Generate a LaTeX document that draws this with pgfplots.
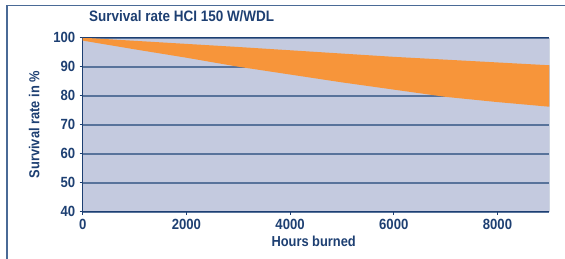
\documentclass[border=0pt]{standalone}
\usepackage{fontspec}
\usepackage{pgfplots}
\pgfplotsset{compat=1.18}
\newfontfamily\cf{Liberation Sans}[FakeStretch=0.89]
\definecolor{navy}{HTML}{1D3F72}
\definecolor{gridcol}{HTML}{58739B}
\definecolor{bgcol}{HTML}{C4CADF}
\definecolor{orng}{HTML}{F7953A}
\definecolor{framecol}{HTML}{4A6A96}
\begin{document}
\begin{tikzpicture}
\useasboundingbox (0,0) rectangle (565bp,259bp);
\draw[framecol, line width=1.6bp] (7bp,-10bp) -- (7bp,253.3bp) -- (580bp,253.3bp);
\begin{axis}[
  at={(82.7bp,47.3bp)}, anchor=south west,
  scale only axis, width=466.6bp, height=174bp,
  xmin=0, xmax=9000, ymin=40, ymax=100,
  xtick={0,2000,4000,6000,8000},
  ytick={40,50,60,70,80,90,100},
  axis lines*=left,
  axis line style={navy, line width=1.3bp},
  axis background/.style={fill=bgcol},
  ymajorgrids,
  major grid style={gridcol, line width=1.7bp},
  tick style={navy, line width=1bp},
  major tick length=3bp,
  tick align=outside,
  /pgf/number format/assume math mode=true,
  /pgf/number format/1000 sep={},
  ticklabel style={font=\cf\bfseries\fontsize{14.8}{16}\selectfont, text=navy},
  xticklabel style={yshift=-1bp},
  yticklabel style={xshift=-1bp},
  xlabel={Hours burned},
  ylabel={Survival rate in \%},
  label style={font=\cf\bfseries\fontsize{14.5}{16}\selectfont, text=navy},
  xlabel style={at={(axis description cs:0.495,-0.201)}, anchor=base},
  ylabel style={at={(axis description cs:-0.104,0.5)}, anchor=center, rotate=0},
  title={Survival rate HCI 150 W/WDL},
  title style={at={(axis description cs:0.0135,1.0598)}, anchor=base west, inner sep=0pt,
    font=\cf\bfseries\fontsize{15.2}{17}\selectfont, text=navy},
]
\addplot[fill=orng, draw=none] coordinates {
  (0,100) (3000,96.8) (6000,93.4) (9000,90.5)
  (9000,76.2) (8000,77.8) (7000,79.6) (6000,82.1) (5000,84.6)
  (4000,87.3) (3000,90.0) (2000,93.1) (1000,96.0) (0,99.0)
} -- cycle;
\draw[gridcol!80, line width=1bp] (axis cs:9000,40) -- (axis cs:9000,100);
\draw[navy, line width=1.3bp] (axis cs:0,100) -- (axis cs:9000,100);
\end{axis}
\end{tikzpicture}
\end{document}
